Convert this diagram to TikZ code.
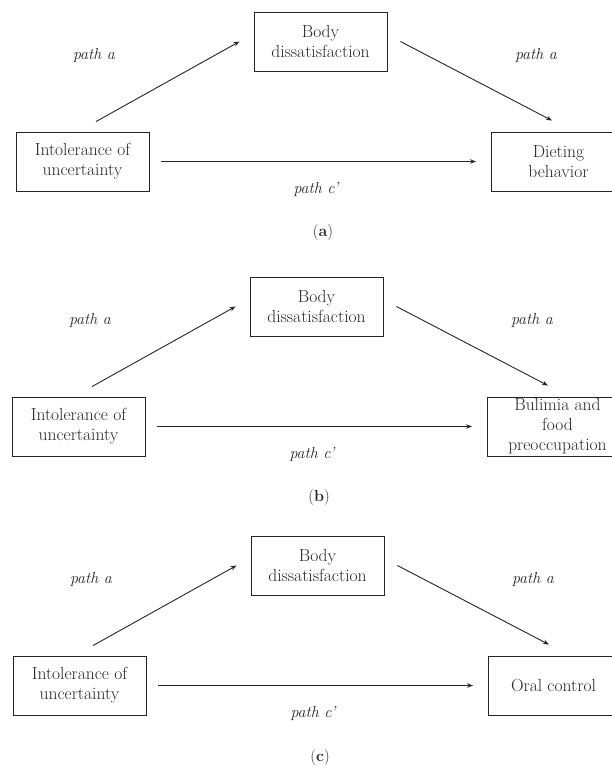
\documentclass[tikz,border=0pt]{standalone}
\usepackage{tikz}
\usetikzlibrary{positioning, arrows.meta}

\tikzset{
  varbox/.style={draw, line width=0.9pt, align=center, inner sep=0pt,
    minimum width=133pt, minimum height=59pt, font=\fontsize{17.5}{20}\selectfont},
  pathlbl/.style={font=\fontsize{16}{18}\selectfont\itshape},
  arr/.style={-{Stealth[length=6pt, width=4.5pt]}, line width=0.9pt}
}

\begin{document}
\begin{tikzpicture}[x=1pt, y=-1pt, color=black!85]
    \clip (0,0) rectangle (612,771);
    \foreach \dx/\dy/\tag/\ow/\out in {0/0/a/134/{Dieting\\behavior},
        -4/265/b/140/{Bulimia and\\food\\preoccupation},
        -3/524/c/130/{Oral control}} {
      \begin{scope}[shift={(\dx,\dy)}]
        \node[varbox] (bd) at (320.5,41.5) {Body\\dissatisfaction};
        \node[varbox] (iu) at (82.5,161.5) {Intolerance of\\uncertainty};
        \node[varbox, minimum width=\ow pt, anchor=west] (out) at (491,161.5) {\out};
        % paths
        \draw[arr] ([shift={(13.5,-10)}]iu.north) -- ([xshift=-14pt]bd.west);
        \draw[arr] ([xshift=13pt]bd.east) -- ([shift={(61,-11)}]out.north west);
        \draw[arr] ([xshift=12pt]iu.east) -- ([xshift=-15pt]out.west);
        \node[pathlbl] (pa1) at (94,55) {path a};
        \node[pathlbl] (pa2) at (536,55) {path a};
        \node[pathlbl] (pc) at (316,189) {path c\kern-1pt’};
        \node[font=\fontsize{16}{20}\selectfont] (tg) at (323,233) {(\textbf{\tag})};
      \end{scope}
    }
\end{tikzpicture}
\end{document}
